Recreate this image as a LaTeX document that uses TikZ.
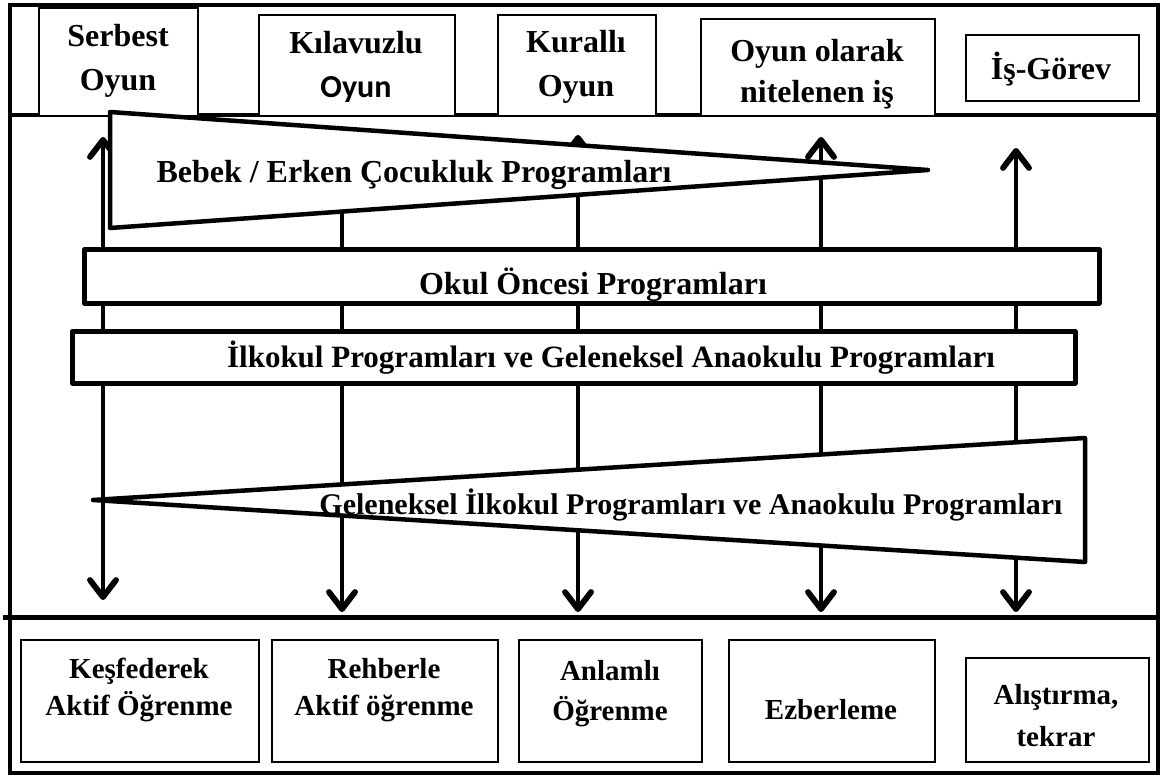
\documentclass[tikz,border=0pt]{standalone}
\usepackage{fontspec}
\setmainfont{Liberation Serif}
\newfontfamily\calibfont{Carlito}
\usetikzlibrary{arrows.meta}
\begin{document}
\begin{tikzpicture}[x=1pt,y=-1pt,
  heavy/.style={line width=4pt},
  box/.style={draw, line width=1.6pt, fill=white, inner sep=0pt, anchor=north west},
  band/.style={draw, line width=4.5pt, fill=white, line join=round},
  lbl/.style={font=\fontsize{32}{44}\selectfont\bfseries, align=center, inner sep=0pt},
  blbl/.style={font=\fontsize{29}{37}\selectfont\bfseries, align=center, inner sep=0pt},
  barb/.tip={Straight Barb[length=17pt,width=26pt,line width=0pt 1.3,round]},
  col/.style={line width=4.5pt, barb-barb}]
\useasboundingbox (0,0) rectangle (1164,778);
\fill[white] (0,0) rectangle (1164,778);
% frame
\draw[heavy] (10,5) rectangle (1158,773);
\coordinate (hl) at (10,115);
\coordinate (hr) at (1158,115);
\draw[heavy] (hl) -- (hr);
% top boxes
\node[box, minimum width=159pt, minimum height=108pt] (serbest) at (38,7) {};
\node[box, minimum width=196pt, minimum height=101pt] (kilavuz) at (258,14) {};
\node[box, minimum width=158pt, minimum height=101pt] (kurall) at (497,14) {};
\node[box, minimum width=234pt, minimum height=97pt] (oyunis) at (700,18) {};
\node[box, minimum width=173pt, minimum height=66pt] (isgorev) at (965,34) {};
% columns
\coordinate (t1) at (103,137); \coordinate (b1) at (103,600);
\coordinate (t2) at (342,137); \coordinate (b2) at (342,612);
\coordinate (t3) at (578,135); \coordinate (b3) at (578,612);
\coordinate (t4) at (821,137); \coordinate (b4) at (821,612);
\coordinate (t5) at (1016,148); \coordinate (b5) at (1016,612);
\foreach \i in {1,...,5} {\draw[col] (t\i) -- (b\i);}
% Bebek triangle
\coordinate (p1) at (110,112); \coordinate (p2) at (110,228); \coordinate (p3) at (928,170);
\draw[band] (p1) -- (p3) -- (p2) -- cycle;
% Okul Oncesi
\node[band, inner sep=0pt, minimum width=1015pt, minimum height=54pt, anchor=north west] (okul) at (82,247) {};
% Ilkokul
\node[band, inner sep=0pt, minimum width=1003pt, minimum height=52pt, anchor=north west] (ilk) at (70,329) {};
% Geleneksel triangle
\coordinate (q1) at (93,500); \coordinate (q2) at (1085,438); \coordinate (q3) at (1085,562);
\draw[band] (q1) -- (q2) -- (q3) -- cycle;
% bottom line
\coordinate (ll) at (3,617); \coordinate (lr) at (1158,617);
\draw[line width=5pt] (ll) -- (lr);
% bottom boxes
\node[box, minimum width=238pt, minimum height=122pt] (kesf) at (20,639) {};
\node[box, minimum width=226pt, minimum height=122pt] (rehb) at (271,639) {};
\node[box, minimum width=183pt, minimum height=122pt] (anlam) at (518,639) {};
\node[box, minimum width=206pt, minimum height=122pt] (ezber) at (728,639) {};
\node[box, minimum width=183pt, minimum height=104pt] (alist) at (965,657) {};
% texts
\node[lbl] (tSerbest) at (118,61) {Serbest\\Oyun};
\node[lbl] (tKilavuz) at (356,67) {Kılavuzlu\\{\calibfont\bfseries Oyun}};
\node[lbl] (tKurall) at (576,67) {Kurallı\\Oyun};
\node[lbl, font=\fontsize{32}{41}\selectfont\bfseries] (tOyunis) at (817,74) {Oyun olarak\\nitelenen iş};
\node[lbl] (tIsgorev) at (1051,69) {İş-Görev};
\node[lbl] (tBebek) at (414,175) {Bebek / Erken Çocukluk Programları};
\node[lbl] (tOkul) at (593,285) {Okul Öncesi Programları};
\node[lbl, font=\fontsize{31}{40}\selectfont\bfseries] (tIlk) at (611,358) {İlkokul Programları ve Geleneksel Anaokulu Programları};
\node[lbl, font=\fontsize{30}{40}\selectfont\bfseries] (tGel) at (691,505) {Geleneksel İlkokul Programları ve Anaokulu Programları};
\node[blbl] (tKesf) at (139,690) {Keşfederek\\Aktif Öğrenme};
\node[blbl] (tRehb) at (384,690) {Rehberle\\Aktif öğrenme};
\node[blbl, font=\fontsize{29}{40}\selectfont\bfseries] (tAnlam) at (610,694) {Anlamlı\\Öğrenme};
\node[blbl] (tEzber) at (831,710) {Ezberleme};
\node[blbl, font=\fontsize{29}{42}\selectfont\bfseries] (tAlist) at (1056,716) {Alıştırma,\\tekrar};
\end{tikzpicture}
\end{document}
